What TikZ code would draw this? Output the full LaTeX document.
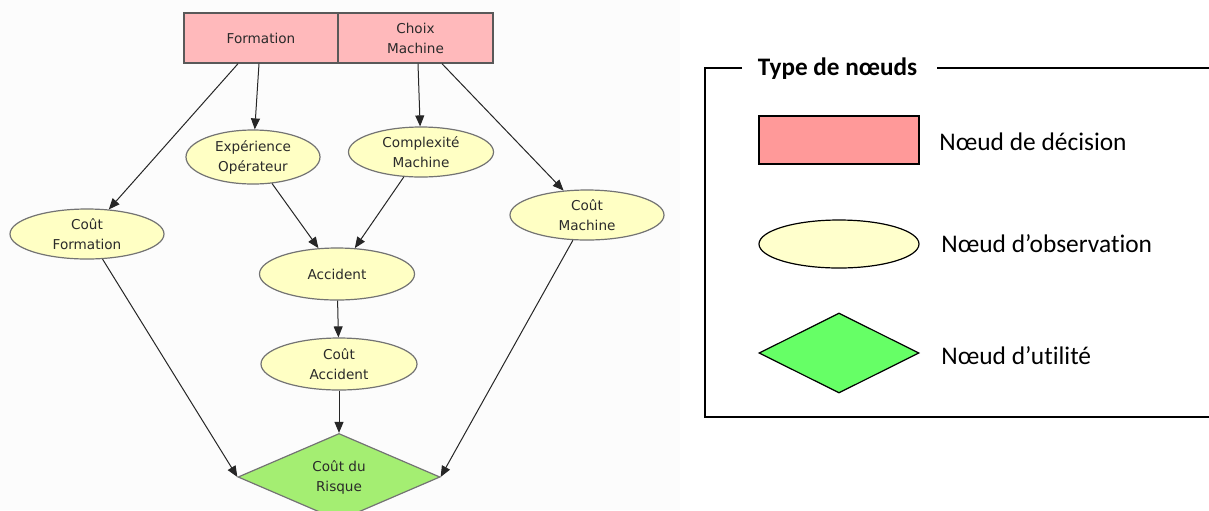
\documentclass[tikz,border=0pt]{standalone}
\usepackage{fontspec}
\setmainfont[Ligatures=NoCommon]{Carlito}
\newfontfamily\diagfont{DejaVu Sans}
\usetikzlibrary{shapes.geometric,arrows.meta}

\definecolor{decfill}{HTML}{FFB9BB}
\definecolor{obsfill}{HTML}{FFFFC4}
\definecolor{utilfill}{HTML}{A4EE72}
\definecolor{legdec}{HTML}{FF9999}
\definecolor{legobs}{HTML}{FFFFCC}
\definecolor{legutil}{HTML}{66FF66}
\definecolor{diagtext}{HTML}{2A2A2A}
\definecolor{diagback}{HTML}{FCFCFC}

\tikzset{
    diagtxt/.style={font=\diagfont\fontsize{6.8}{10}\selectfont, text=diagtext, align=center},
    decision/.style={diagtxt, draw=black!65, line width=0.7pt, fill=decfill, inner sep=0pt,
        minimum width=77pt, minimum height=25pt},
    observation/.style={diagtxt, ellipse, draw=black!55, line width=0.6pt, fill=obsfill, inner sep=0pt,
        minimum width=77pt, minimum height=25pt},
    utility/.style={diagtxt, diamond, draw=black!55, line width=0.6pt, fill=utilfill, inner sep=0pt,
        minimum width=101pt, minimum height=38pt},
    link/.style={-{Triangle[length=5.5pt,width=4.5pt]}, black!85, line width=0.5pt},
    legtxt/.style={font=\fontsize{12.7}{15}\selectfont, anchor=west, inner sep=0pt},
}

\begin{document}
\begin{tikzpicture}[x=0.5pt,y=-0.5pt]
    \useasboundingbox (0,0) rectangle (1209,510);
    \fill[diagback] (0,0) rectangle (680,510);

    % decisions
    \node[decision] (form) at (261,38) {Formation};
    \node[decision, minimum width=77.5pt] (choix) at (415.5,38) {Choix\\Machine};

    % observations
    \node[observation, minimum width=67pt, minimum height=27pt] (exp) at (253,157) {Exp\'erience\\Op\'erateur};
    \node[observation, minimum width=72.5pt] (comp) at (421,152) {Complexit\'e\\Machine};
    \node[observation] (cf) at (87,234) {Co\^ut\\Formation};
    \node[observation] (cm) at (587,215) {Co\^ut\\Machine};
    \node[observation, minimum width=77.5pt, minimum height=26pt] (acc) at (337,274) {Accident};
    \node[observation, minimum width=78pt, minimum height=26pt] (cacc) at (339,364) {Co\^ut\\Accident};

    % utility
    \node[utility] (risk) at (339,477) {Co\^ut du\\Risque};

    % links
    \draw[link] ([xshift=-11.5pt]form.south) -- (cf);
    \draw[link] ([xshift=-1pt]form.south) -- (exp);
    \draw[link] ([xshift=1.25pt]choix.south) -- (comp);
    \draw[link] ([xshift=13.25pt]choix.south) -- (cm);
    \draw[link] (exp) -- (acc);
    \draw[link] (comp) -- (acc);
    \draw[link] (acc) -- (cacc);
    \draw[link] (cacc) -- (risk);
    \draw[link] (cf) -- (risk.west);
    \draw[link] (cm) -- (risk.east);

    % legend
    \node[font=\bfseries\fontsize{12.6}{15}\selectfont, inner sep=0pt] (legtitle) at (837.5,69) {Type de n\oe uds};
    \coordinate (gapl) at (742,68);
    \coordinate (gapr) at (937,68);
    \draw[line width=0.75pt] (gapl) -- (705,68) -- (705,417) -- (1212,417);
    \draw[line width=0.75pt] (gapr) -- (1212,68);

    \node[draw=black, line width=0.6pt, fill=legdec, minimum width=80pt, minimum height=24pt, inner sep=0pt]
        (legdecbox) at (839,140) {};
    \node[legtxt] (legdectxt) at (939,142) {N\oe ud de d\'ecision};

    \node[ellipse, draw=black, line width=0.6pt, fill=legobs, minimum width=80pt, minimum height=24pt, inner sep=0pt]
        (legobsbox) at (839,244) {};
    \node[legtxt] (legobstxt) at (941,244) {N\oe ud d’observation};

    \node[diamond, draw=black, line width=0.6pt, fill=legutil, minimum width=80pt, minimum height=40pt, inner sep=0pt]
        (legutilbox) at (839,353) {};
    \node[legtxt] (legutiltxt) at (941,356) {N\oe ud d’utilit\'e};
\end{tikzpicture}
\end{document}
